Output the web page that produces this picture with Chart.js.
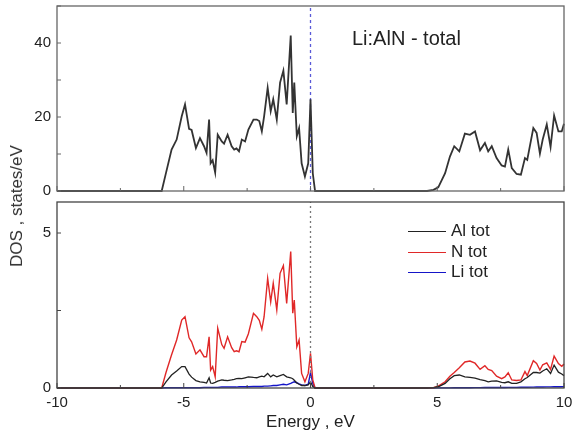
<!DOCTYPE html>
<html>
<head>
<meta charset="utf-8">
<script src="https://cdn.jsdelivr.net/npm/chart.js@4.4.1/dist/chart.umd.min.js"></script>
<style>
  body { margin:0; background:#fff; font-family:"Liberation Sans", Arial, sans-serif; }
  #wrap { position:relative; width:573px; height:437px; }
  canvas { position:absolute; left:0; }
  #topChart { top:0; }
  #botChart { top:196px; }
  .lbl { position:absolute; color:#222; white-space:nowrap; }
  #ytitle { left:17px; top:206px; font-size:17px; color:#333; transform:translate(-50%,-50%) rotate(-90deg); }
  #ptitle { left:352px; top:27px; font-size:20px; }
  .leg { position:absolute; left:408px; font-size:17px; color:#222; height:20px; line-height:20px; }
  .leg span { display:inline-block; width:38px; height:1.5px; vertical-align:middle; margin-right:5px; }
</style>
</head>
<body>
<div id="wrap">
  <canvas id="topChart" width="573" height="196"></canvas>
  <canvas id="botChart" width="573" height="241"></canvas>
  <div id="ytitle" class="lbl">DOS , states/eV</div>
  <div id="ptitle" class="lbl">Li:AlN - total</div>
  <div class="leg" style="top:221px"><span style="background:#222"></span>Al tot</div>
  <div class="leg" style="top:242px"><span style="background:#e02828"></span>N tot</div>
  <div class="leg" style="top:262px"><span style="background:#1515c8"></span>Li tot</div>
</div>
<script>
// energy grid (eV), valence band then conduction band
const energy = [-10, -5.87, -5.7, -5.48, -5.28, -5.08, -4.95, -4.79, -4.69, -4.52, -4.36, -4.2, -4.1, -4.0, -3.94, -3.86, -3.76,
  -3.66, -3.5, -3.41, -3.27, -3.11, -3.01, -2.92, -2.82, -2.71, -2.58, -2.45, -2.25, -2.12, -2.02, -1.92, -1.83,
  -1.69, -1.57, -1.47, -1.33, -1.2, -1.07, -0.94, -0.78, -0.7, -0.64, -0.54, -0.45, -0.35, -0.22, -0.09, 0, 0.09, 0.18,
  4.6, 4.85, 5.04, 5.31, 5.5, 5.67, 5.87, 6.09, 6.29, 6.49, 6.69, 6.88, 7.01, 7.15, 7.34, 7.54, 7.67,
  7.8, 7.94, 8.13, 8.3, 8.46, 8.55, 8.79, 8.92, 9.05, 9.16, 9.32, 9.47, 9.61, 9.78, 9.91, 10];

const dosTotal = [0, 0, 4.9, 11.2, 13.9, 20.2, 23.4, 16.8, 16.5, 11.6, 14.3, 12.1, 10.3, 19.3, 7.5, 8.3, 5.0,
  15.2, 13.4, 12.8, 15.2, 12.1, 11.2, 11.5, 10.7, 13.9, 13.4, 16.6, 19.3, 19.3, 18.9, 16.1, 20.2,
  27.9, 21.6, 24.8, 19.3, 29.3, 32.5, 23.4, 42.0, 21.1, 29.3, 14.8, 17.0, 7.5, 3.9, 7.5, 24.8, 4.8, 0,
  0, 0.3, 1.0, 4.8, 9.3, 12.1, 10.7, 15.5, 15.2, 16.1, 11.0, 13.0, 10.7, 12.1, 8.9, 6.9, 6.6,
  11.2, 6.2, 4.6, 4.4, 8.9, 8.4, 17.0, 15.7, 10.1, 13.9, 18.0, 11.9, 20.4, 16.1, 16.1, 18.2];

const dosAl = [0, 0, 0.2, 0.42, 0.55, 0.69, 0.69, 0.45, 0.35, 0.24, 0.2, 0.18, 0.16, 0.33, 0.16, 0.15, 0.18,
  0.22, 0.26, 0.25, 0.24, 0.26, 0.28, 0.3, 0.31, 0.3, 0.33, 0.36, 0.34, 0.33, 0.36, 0.38, 0.36,
  0.47, 0.36, 0.42, 0.36, 0.4, 0.44, 0.36, 0.33, 0.3, 0.25, 0.16, 0.12, 0.08, 0.08, 0.1, 0.2, 0.05, 0,
  0, 0.01, 0.04, 0.15, 0.3, 0.4, 0.42, 0.36, 0.34, 0.32, 0.27, 0.24, 0.2, 0.22, 0.23, 0.18, 0.17,
  0.2, 0.15, 0.15, 0.2, 0.3, 0.34, 0.5, 0.5, 0.48, 0.55, 0.62, 0.47, 0.74, 0.51, 0.45, 0.4];

const dosN = [0, 0, 0.5, 1.07, 1.55, 2.19, 2.3, 1.62, 1.49, 1.1, 1.23, 1.01, 1.01, 1.65, 0.58, 0.69, 0.36,
  1.93, 1.4, 1.28, 1.65, 1.3, 1.17, 1.2, 1.17, 1.5, 1.48, 1.75, 2.41, 2.3, 2.18, 1.9, 2.3,
  3.54, 2.78, 3.38, 2.52, 3.7, 3.95, 2.73, 4.4, 2.41, 2.84, 1.33, 1.55, 0.47, 0.2, 0.47, 1.12, 0.26, 0,
  0, 0.01, 0.06, 0.2, 0.38, 0.5, 0.65, 0.84, 0.87, 0.8, 0.6, 0.72, 0.6, 0.56, 0.38, 0.3, 0.36,
  0.49, 0.26, 0.24, 0.26, 0.53, 0.4, 0.88, 0.79, 0.58, 0.75, 0.81, 0.6, 1.03, 0.79, 0.7, 0.77];

const dosLi = [0, 0, 0.01, 0.01, 0.01, 0.01, 0.01, 0.01, 0.01, 0.01, 0.01, 0.02, 0.02, 0.02, 0.02, 0.02, 0.02,
  0.02, 0.03, 0.03, 0.03, 0.03, 0.03, 0.03, 0.04, 0.04, 0.04, 0.04, 0.05, 0.05, 0.05, 0.05, 0.06,
  0.06, 0.07, 0.08, 0.08, 0.1, 0.12, 0.1, 0.15, 0.18, 0.2, 0.17, 0.13, 0.1, 0.08, 0.12, 0.5, 0.15, 0,
  0, 0, 0.005, 0.005, 0.005, 0.008, 0.01, 0.01, 0.01, 0.012, 0.012, 0.015, 0.015, 0.015, 0.015, 0.018, 0.018,
  0.02, 0.02, 0.02, 0.022, 0.025, 0.025, 0.028, 0.03, 0.03, 0.032, 0.035, 0.035, 0.04, 0.04, 0.04, 0.045];

const xTicks = [-10, -5, 0, 5, 10];
const yTicksTop = [0, 20, 40];
const yTicksBot = [0, 5];
const fermi = 0;

const font = { family: '"Liberation Sans", Arial, sans-serif', size: 15 };
const pts = arr => energy.map((e, i) => ({ x: e, y: arr[i] }));

// box around the plot plus short inward ticks (major + minor)
const frame = {
  id: 'frame',
  afterDatasetsDraw(chart, args, opts) {
    const { ctx, chartArea: a, scales } = chart;
    ctx.save();
    ctx.strokeStyle = opts.color;
    ctx.lineWidth = 1.3;
    ctx.strokeRect(a.left, a.top, a.right - a.left, a.bottom - a.top);
    ctx.lineWidth = 1;
    const x = scales.x;
    for (let v = x.min; v <= x.max; v += 2.5) {
      const p = x.getPixelForValue(v), len = v % 5 === 0 ? 5 : 3;
      ctx.beginPath(); ctx.moveTo(p, a.bottom); ctx.lineTo(p, a.bottom - len); ctx.stroke();
    }
    const y = scales.y;
    for (let v = y.min; v <= y.max; v += opts.yMinor) {
      const p = y.getPixelForValue(v);
      ctx.beginPath(); ctx.moveTo(a.left, p); ctx.lineTo(a.left + 4, p); ctx.stroke();
    }
    ctx.restore();
  }
};

function xScale(show) {
  return {
    type: 'linear', min: -10, max: 10, display: show,
    grid: { display: false, drawTicks: false }, border: { display: false },
    afterBuildTicks: s => { s.ticks = xTicks.map(v => ({ value: v })); },
    afterFit: s => {
      if (show) s.height = 49;
      s.paddingLeft = 0; s.paddingRight = 0;
    },
    ticks: { font, color: '#222', padding: 6, maxRotation: 0 },
    title: { display: show, text: 'Energy , eV', font: { family: font.family, size: 17 }, color: '#222', padding: { top: 0, bottom: 4 } }
  };
}
function yScale(max, ticks) {
  return {
    min: 0, max: max,
    grid: { display: false, drawTicks: false }, border: { display: false },
    afterBuildTicks: s => { s.ticks = ticks.map(v => ({ value: v })); },
    afterFit: s => { s.width = 57; s.paddingTop = 0; s.paddingBottom = 0; },
    ticks: { font, color: '#222', padding: 6 }
  };
}
const line = (arr, color, w) => ({
  data: pts(arr), borderColor: color, borderWidth: w, pointRadius: 0, tension: 0, clip: 3
});

new Chart(document.getElementById('topChart'), {
  type: 'line',
  data: { datasets: [
    line(dosTotal, '#333', 1.8),
    { data: [{ x: fermi, y: 0 }, { x: fermi, y: 50 }], borderColor: '#5a5ad8', borderWidth: 1.3, borderDash: [3, 3], pointRadius: 0 }
  ] },
  options: {
    responsive: false, animation: false, devicePixelRatio: 1,
    layout: { padding: { top: 6, right: 9, bottom: 5, left: 0 } },
    plugins: { legend: { display: false }, tooltip: { enabled: false }, frame: { color: '#666', yMinor: 10 } },
    scales: { x: xScale(false), y: yScale(50, yTicksTop) }
  },
  plugins: [frame]
});

new Chart(document.getElementById('botChart'), {
  type: 'line',
  data: { datasets: [
    { data: [{ x: fermi, y: 0 }, { x: fermi, y: 6 }], borderColor: '#777', borderWidth: 1.3, borderDash: [2, 3], pointRadius: 0 },
    line(dosAl, '#222', 1.3),
    line(dosN, '#e02828', 1.4),
    line(dosLi, '#1515c8', 1.4)
  ] },
  options: {
    responsive: false, animation: false, devicePixelRatio: 1,
    layout: { padding: { top: 6, right: 9, bottom: 0, left: 0 } },
    plugins: { legend: { display: false }, tooltip: { enabled: false }, frame: { color: '#444', yMinor: 2.5 } },
    scales: { x: xScale(true), y: yScale(6, yTicksBot) }
  },
  plugins: [frame]
});
</script>
</body>
</html>
